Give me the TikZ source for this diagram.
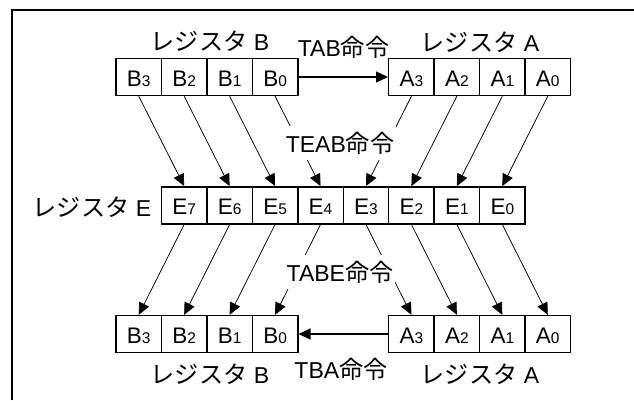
\documentclass[tikz,border=0pt]{standalone}
\usepackage{fontspec}
\setmainfont{Liberation Sans}
\newfontfamily\jp[Scale=1.05]{Noto Sans CJK JP}
\usetikzlibrary{arrows.meta}
\newcommand\regc[2]{#1{\fontsize{15.5}{15.5}\selectfont #2}}
\begin{document}
\begin{tikzpicture}[x=1pt,y=-1pt,
  cell/.style={draw,line width=1.4pt,minimum width=45.45pt,minimum height=37pt,inner sep=0pt,
    text height=18.5pt,text depth=0pt,font=\fontsize{22.5}{22.5}\selectfont,fill=white},
  lbl/.style={font=\fontsize{23}{23}\selectfont,inner sep=0pt,anchor=base},
  mid/.style={lbl,fill=white,inner xsep=2pt,inner ysep=6pt},
  tr/.style={-{Triangle[length=12pt,width=11pt]},line width=0.75pt},
  hz/.style={-{Triangle[length=12pt,width=11pt]},line width=1.4pt}]
\useasboundingbox (0,0) rectangle (634,400);
\draw[line width=1.5pt] (12,400) -- (12,10) -- (634,10);
% cells
\foreach \k/\d in {0/3,1/2,2/1,3/0}{
  \node[cell] (tb\d) at (138.725+\k*45.45,77) {\regc{B}{\d}};
  \node[cell] (bb\d) at (138.725+\k*45.45,334) {\regc{B}{\d}};
  \node[cell] (ta\d) at (411.425+\k*45.45,77) {\regc{A}{\d}};
  \node[cell] (ba\d) at (411.425+\k*45.45,334) {\regc{A}{\d}};
}
\foreach \k/\d in {0/7,1/6,2/5,3/4,4/3,5/2,6/1,7/0}{
  \node[cell] (e\d) at (184.175+\k*45.45,205.3) {\regc{E}{\d}};
}
% arrows
\foreach \s/\t in {tb3/e7,tb2/e6,tb1/e5,tb0/e4,ta3/e3,ta2/e2,ta1/e1,ta0/e0}{
  \draw[tr] (\s.south) -- (\t.north);
}
\foreach \s/\t in {e7/bb3,e6/bb2,e5/bb1,e4/bb0,e3/ba3,e2/ba2,e1/ba1,e0/ba0}{
  \draw[tr] (\s.south) -- (\t.north);
}
\draw[hz] (tb0.east) -- (ta3.west);
\draw[hz] (ba3.west) -- (bb0.east);
% labels
\node[lbl] (lbt) at (210,50) {{\jp レジスタ} B};
\node[lbl] (lat) at (480,51) {{\jp レジスタ} A};
\node[lbl] (ltab) at (343.5,56) {TAB{\jp 命令}};
\node[mid] (lteab) at (340,152) {TEAB{\jp 命令}};
\node[lbl] (le) at (92,216.5) {{\jp レジスタ} E};
\node[mid] (ltabe) at (340,281.5) {TABE{\jp 命令}};
\node[lbl] (ltba) at (341,378) {TBA{\jp 命令}};
\node[lbl] (lbb) at (210,383) {{\jp レジスタ} B};
\node[lbl] (lab) at (480,383) {{\jp レジスタ} A};
\end{tikzpicture}
\end{document}
